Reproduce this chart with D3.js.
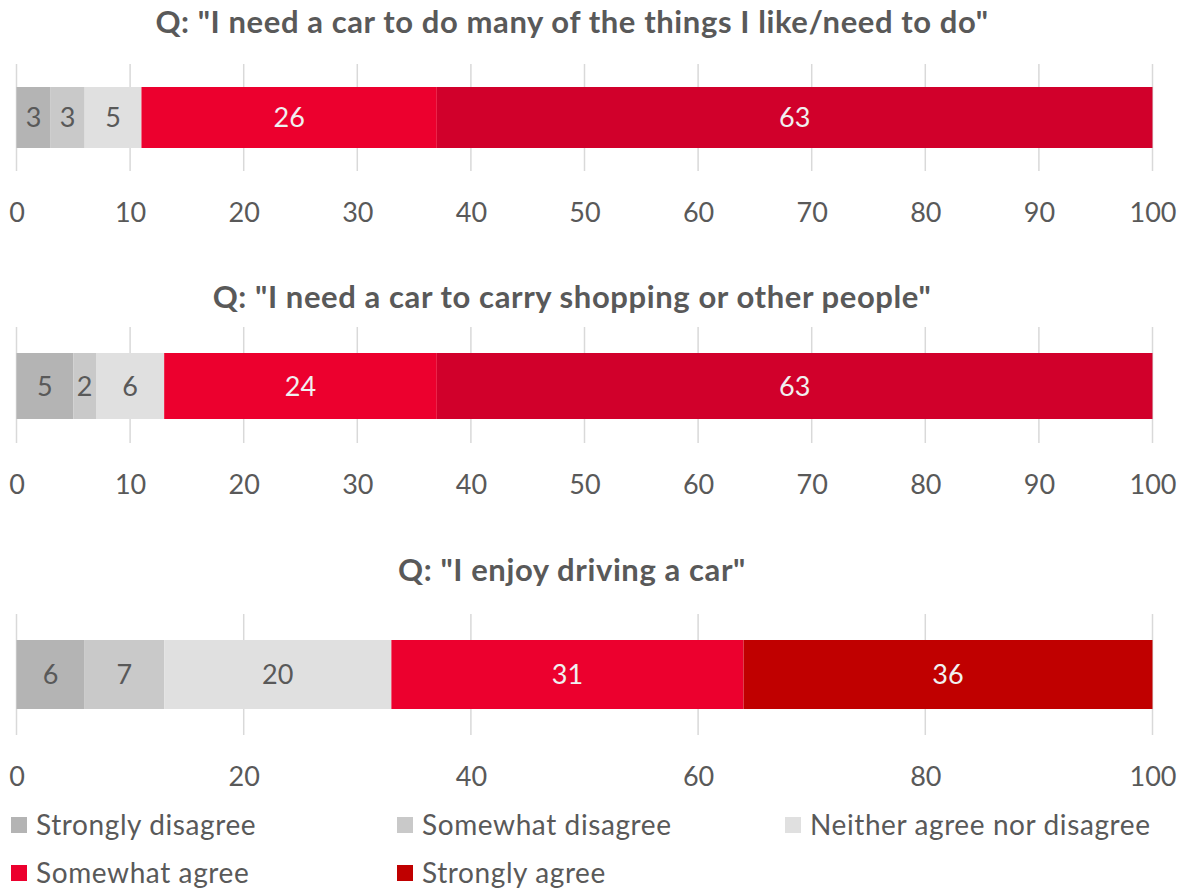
<!DOCTYPE html>
<html>
<head>
<meta charset="utf-8">
<script src="https://cdn.jsdelivr.net/npm/d3@7"></script>
<style>
  html, body { margin: 0; padding: 0; background: #fff; }
  svg { display: block; font-family: Lato, "Open Sans", sans-serif; }
</style>
</head>
<body>
<svg id="chart" width="1182" height="888"></svg>
<script>
// Response categories, in stacking order
const categories = ["Strongly disagree", "Somewhat disagree", "Neither agree nor disagree", "Somewhat agree", "Strongly agree"];

// Survey questions
const questions = [
  'Q: "I need a car to do many of the things I like/need to do"',
  'Q: "I need a car to carry shopping or other people"',
  'Q: "I enjoy driving a car"'
];

// Share of respondents (%) per category
const valuesManyThings = [3, 3, 5, 26, 63];
const valuesShopping   = [5, 2, 6, 24, 63];
const valuesDriving    = [6, 7, 20, 31, 36];

// Axis tick labels
const ticksByTen    = [0, 10, 20, 30, 40, 50, 60, 70, 80, 90, 100];
const ticksByTwenty = [0, 20, 40, 60, 80, 100];

// Fill colours
const greyColors = ["#b4b4b4", "#c9c9c9", "#e0e0e0"];
const agreeColor = "#ec002e";
const strongAgreeA = "#d1002b";
const strongAgreeB = "#c00000";

const panels = [
  { title: questions[0], values: valuesManyThings, ticks: ticksByTen,    strong: strongAgreeA, titleY: 33,  gridTop: 64,  barTop: 87,  barBottom: 148, gridBottom: 171 },
  { title: questions[1], values: valuesShopping,   ticks: ticksByTen,    strong: strongAgreeA, titleY: 308, gridTop: 327, barTop: 353, barBottom: 419, gridBottom: 443 },
  { title: questions[2], values: valuesDriving,    ticks: ticksByTwenty, strong: strongAgreeB, titleY: 581, gridTop: 614, barTop: 640, barBottom: 709, gridBottom: 735 }
];

const svg = d3.select("#chart");
const x = d3.scaleLinear().domain([0, 100]).range([16.5, 1152.5]);
const textGrey = "#595959";

panels.forEach(p => {
  const colors = [...greyColors, agreeColor, p.strong];
  const g = svg.append("g");

  // title
  g.append("text")
    .attr("x", 572)
    .attr("y", p.titleY)
    .attr("text-anchor", "middle")
    .attr("font-size", 31)
    .attr("font-weight", 700)
    .attr("letter-spacing", 0.6)
    .attr("fill", textGrey)
    .text(p.title);

  // vertical gridlines
  g.selectAll("line.grid")
    .data(p.ticks)
    .join("line")
    .attr("class", "grid")
    .attr("x1", d => x(d)).attr("x2", d => x(d))
    .attr("y1", p.gridTop).attr("y2", p.gridBottom)
    .attr("stroke", "#d9d9d9")
    .attr("stroke-width", 1.5);

  // stacked segments
  const stack = [];
  let acc = 0;
  p.values.forEach((v, i) => { stack.push({ v, x0: acc, x1: acc + v, i }); acc += v; });

  g.selectAll("rect.seg")
    .data(stack)
    .join("rect")
    .attr("class", "seg")
    .attr("x", d => x(d.x0))
    .attr("width", d => x(d.x1) - x(d.x0))
    .attr("y", p.barTop)
    .attr("height", p.barBottom - p.barTop)
    .attr("fill", d => colors[d.i]);

  g.selectAll("text.val")
    .data(stack)
    .join("text")
    .attr("class", "val")
    .attr("x", d => (x(d.x0) + x(d.x1)) / 2)
    .attr("y", (p.barTop + p.barBottom) / 2)
    .attr("dy", "0.36em")
    .attr("text-anchor", "middle")
    .attr("font-size", 27)
    .attr("fill", d => d.i >= 3 ? "#f0f0f0" : textGrey)
    .text(d => d.v);

  // axis labels
  const axis = d3.axisBottom(x).tickValues(p.ticks).tickSize(0).tickPadding(32).tickFormat(d3.format("d"));
  const ag = g.append("g")
    .attr("transform", `translate(0,${p.gridBottom})`)
    .call(axis);
  ag.select(".domain").remove();
  ag.selectAll("text")
    .attr("font-size", 27)
    .attr("font-family", "Lato, 'Open Sans', sans-serif")
    .attr("fill", textGrey);
});

// legend
const legendPos = [
  { sx: 11,  sy: 817 }, { sx: 397, sy: 817 }, { sx: 785, sy: 817 },
  { sx: 11,  sy: 865 }, { sx: 397, sy: 865 }
];
const legendColors = [...greyColors, agreeColor, strongAgreeB];
const lg = svg.append("g");
categories.forEach((c, i) => {
  const pos = legendPos[i];
  lg.append("rect")
    .attr("x", pos.sx).attr("y", pos.sy)
    .attr("width", 16).attr("height", 16)
    .attr("fill", legendColors[i]);
  lg.append("text")
    .attr("x", pos.sx + 25)
    .attr("y", pos.sy + 8)
    .attr("dy", "0.36em")
    .attr("font-size", 28)
    .attr("letter-spacing", 0.6)
    .attr("fill", textGrey)
    .text(c);
});
</script>
</body>
</html>
